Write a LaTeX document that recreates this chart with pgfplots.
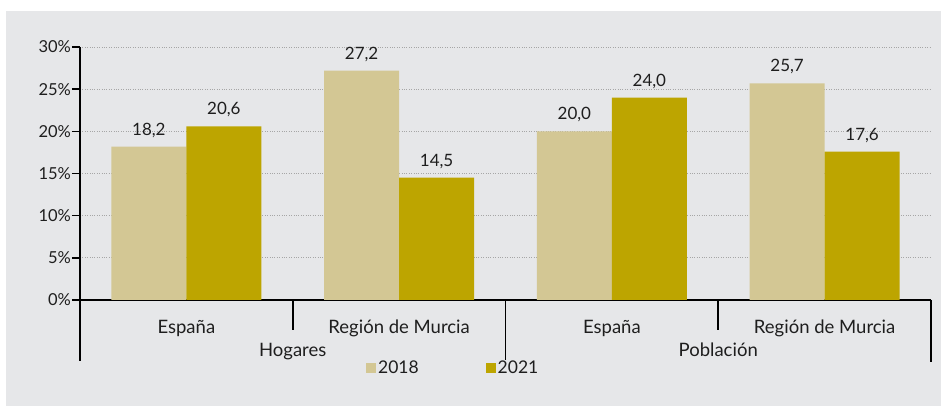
\documentclass[border=0pt]{standalone}
\usepackage{fontspec}
\setmainfont{Lato}
\usepackage{pgfplots}
\pgfplotsset{compat=1.18}
\definecolor{bg}{RGB}{230,231,233}
\definecolor{cA}{RGB}{211,199,148}
\definecolor{cB}{RGB}{189,165,0}
\definecolor{txt}{RGB}{30,30,30}
\begin{document}
\begin{tikzpicture}
\fill[white] (0,0) rectangle (941pt,406pt);
\fill[bg] (6pt,0) rectangle (941pt,395pt);
\begin{axis}[
 at={(80pt,106pt)}, anchor=south west,
 scale only axis, width=851pt, height=253pt,
 xmin=-0.5, xmax=3.5, ymin=0, ymax=30,
 axis x line*=bottom, axis y line*=left,
 axis line style={line width=1.6pt, black, -},
 ybar=0pt, bar width=75pt,
 xtick={0,1,2,3}, xticklabels={España, Región de Murcia, España, Región de Murcia},
 xtick style={draw=none},
 xticklabel style={font=\fontsize{18.5}{20}\selectfont, anchor=base, yshift=-26pt, text=txt},
 ytick={0,5,...,30}, yticklabels={0\%,5\%,10\%,15\%,20\%,25\%,30\%},
 ytick style={line width=1.6pt, black},
 tick align=outside, major tick length=8pt,
 yticklabel style={font=\fontsize{16.5}{18}\selectfont, text=txt, xshift=2.5pt},
 ymajorgrids, grid style={dotted, line width=0.7pt, black!35},
 nodes near coords={\pgfmathprintnumber[fixed, fixed zerofill, precision=1, use comma, assume math mode=true]{\pgfplotspointmeta}},
 nodes near coords style={font=\fontsize{17}{18}\selectfont, anchor=base, yshift=11.5pt, text=txt},
 clip=false,
 legend columns=2,
 legend image code/.code={\fill[#1] (0pt,-5pt) rectangle (10pt,5pt);},
 legend style={at={(0.3360,-0.2688)}, anchor=west, draw=none, fill=none, inner sep=0pt,
   font=\fontsize{17.5}{18}\selectfont, text=txt,
   /tikz/every even column/.append style={column sep=65pt}},
]
\addplot[fill=cA, draw=none] coordinates {(0,18.2) (1,27.2) (2,20.0) (3,25.7)};
\addplot[fill=cB, draw=none] coordinates {(0,20.6) (1,14.5) (2,24.0) (3,17.6)};
\legend{2018,2021}
\draw[line width=1.6pt] (axis cs:-0.5,0) -- ++(0pt,-61pt);
\draw[line width=1.6pt] (axis cs:0.5,0) -- ++(0pt,-30pt);
\draw[line width=1.6pt] (axis cs:1.5,0) -- ++(0pt,-60pt);
\draw[line width=1.6pt] (axis cs:2.5,0) -- ++(0pt,-30pt);
\draw[line width=1.6pt] (axis cs:3.5,0) -- ++(0pt,-62pt);
\node[font=\fontsize{18.5}{20}\selectfont, anchor=base, text=txt] at ([yshift=-57pt]axis cs:0.5,0) {Hogares};
\node[font=\fontsize{18.5}{20}\selectfont, anchor=base, text=txt] at ([yshift=-57pt]axis cs:2.5,0) {Población};
\end{axis}
\end{tikzpicture}
\end{document}
